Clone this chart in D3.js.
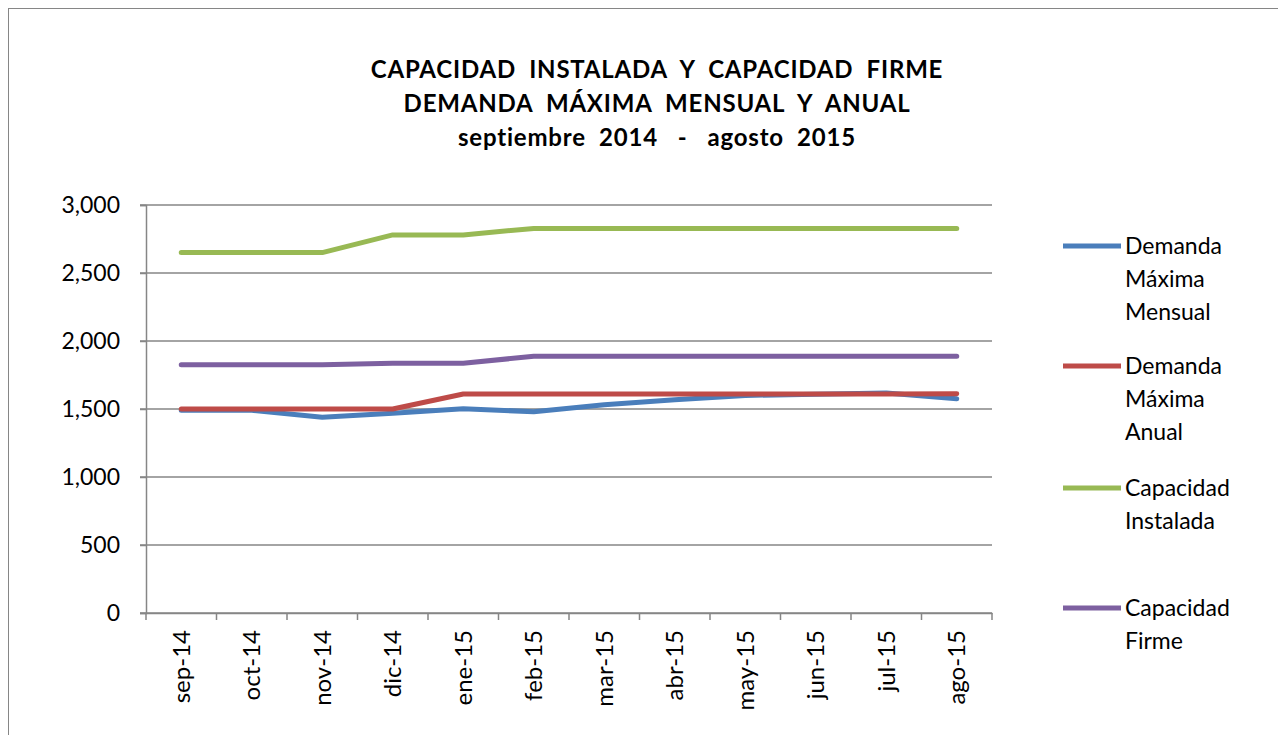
<!DOCTYPE html>
<html>
<head>
<meta charset="utf-8">
<script src="https://cdn.jsdelivr.net/npm/d3@7"></script>
<style>
  body { margin: 0; background: #fff; }
  svg text { font-family: Lato, "Open Sans", sans-serif; fill: #000; }
</style>
</head>
<body>
<div id="chart"></div>
<script>
const months = ['sep-14', 'oct-14', 'nov-14', 'dic-14', 'ene-15', 'feb-15',
                'mar-15', 'abr-15', 'may-15', 'jun-15', 'jul-15', 'ago-15'];

const demandaMensual = [1490, 1490, 1440, 1468, 1502, 1480, 1532, 1568, 1600, 1608, 1618, 1575];
const demandaAnual   = [1500, 1500, 1500, 1500, 1610, 1610, 1610, 1610, 1610, 1610, 1610, 1612];
const capInstalada   = [2650, 2650, 2650, 2780, 2780, 2828, 2828, 2828, 2828, 2828, 2828, 2828];
const capFirme       = [1826, 1826, 1826, 1836, 1836, 1888, 1888, 1888, 1888, 1888, 1888, 1888];

const yTicks = [0, 500, 1000, 1500, 2000, 2500, 3000];

const titleLines = [
    'CAPACIDAD  INSTALADA  Y  CAPACIDAD  FIRME',
    'DEMANDA  MÁXIMA  MENSUAL  Y  ANUAL',
    'septiembre  2014   -   agosto  2015'
];

const series = [
    {name: ['Demanda', 'Máxima', 'Mensual'], values: demandaMensual, color: '#4a7ebb'},
    {name: ['Demanda', 'Máxima', 'Anual'], values: demandaAnual, color: '#be4b48'},
    {name: ['Capacidad', 'Instalada'], values: capInstalada, color: '#98b954'},
    {name: ['Capacidad', 'Firme'], values: capFirme, color: '#7d60a0'}
];

const W = 1278, H = 735;
const margin = {top: 205, right: 286, bottom: 122, left: 146};
const width = W - margin.left - margin.right;
const height = H - margin.top - margin.bottom;

const root = d3.select('#chart')
    .append('svg')
    .attr('width', W)
    .attr('height', H);

// outer frame
root.append('rect')
    .attr('x', 8.5)
    .attr('y', 8.5)
    .attr('width', W + 20)
    .attr('height', H + 20)
    .attr('fill', 'none')
    .attr('stroke', '#868686')
    .attr('stroke-width', 1);

// title
root.append('g')
    .selectAll('text')
    .data(titleLines)
    .enter()
    .append('text')
    .attr('x', 657)
    .attr('y', (d, i) => 78 + i * 34)
    .attr('text-anchor', 'middle')
    .style('font-size', '24px')
    .style('font-weight', 'bold')
    .style('letter-spacing', '0.8px')
    .style('white-space', 'pre')
    .text(d => d);

const svg = root.append('g')
    .attr('transform', `translate(${margin.left},${margin.top})`);

const x = d3.scaleBand()
    .domain(months)
    .range([0, width]);

const y = d3.scaleLinear()
    .domain([0, 3000])
    .range([height, 0]);

// gridlines
svg.selectAll('.grid')
    .data(yTicks)
    .enter()
    .append('line')
    .attr('class', 'grid')
    .attr('x1', -6)
    .attr('x2', width)
    .attr('y1', d => y(d))
    .attr('y2', d => y(d))
    .attr('stroke', '#868686')
    .attr('stroke-width', 1.5);

// y axis
const yAxis = svg.append('g')
    .call(d3.axisLeft(y).tickValues(yTicks).tickSize(6).tickFormat(d3.format(',')));
yAxis.select('.domain').attr('stroke', '#868686').attr('stroke-width', 1.5);
yAxis.selectAll('.tick line').attr('stroke', '#868686').attr('stroke-width', 1.5);
yAxis.selectAll('.tick text')
    .attr('x', -26)
    .style('font-size', '23px')
    .style('font-family', 'Lato, "Open Sans", sans-serif');

// x axis
const xAxis = svg.append('g')
    .attr('transform', `translate(0,${height})`)
    .call(d3.axisBottom(x).tickSize(0));
xAxis.select('.domain').attr('stroke', '#868686').attr('stroke-width', 1.5);
xAxis.selectAll('.tick text')
    .attr('transform', 'rotate(-90)')
    .attr('x', -17)
    .attr('y', 0)
    .attr('dy', '0.35em')
    .attr('text-anchor', 'end')
    .style('font-size', '24px')
    .style('font-family', 'Lato, "Open Sans", sans-serif');

// category tick marks between bands
svg.selectAll('.xtick')
    .data(months.concat(['end']))
    .enter()
    .append('line')
    .attr('class', 'xtick')
    .attr('x1', (d, i) => i * x.bandwidth())
    .attr('x2', (d, i) => i * x.bandwidth())
    .attr('y1', height)
    .attr('y2', height + 7)
    .attr('stroke', '#868686')
    .attr('stroke-width', 1.5);

const line = d3.line()
    .x((d, i) => x(months[i]) + x.bandwidth() / 2)
    .y(d => y(d));

series.forEach(s => {
    svg.append('path')
        .datum(s.values)
        .attr('fill', 'none')
        .attr('stroke', s.color)
        .attr('stroke-width', 5)
        .attr('stroke-linecap', 'round')
        .attr('stroke-linejoin', 'round')
        .attr('d', line);
});

// legend
const legendY = [246, 366, 488, 608];
const legend = root.append('g');
series.forEach((s, i) => {
    const g = legend.append('g')
        .attr('transform', `translate(1063,${legendY[i]})`);
    g.append('line')
        .attr('x1', 0)
        .attr('x2', 58)
        .attr('y1', 0)
        .attr('y2', 0)
        .attr('stroke', s.color)
        .attr('stroke-width', 5);
    g.selectAll('text')
        .data(s.name)
        .enter()
        .append('text')
        .attr('x', 62)
        .attr('y', (d, j) => j * 33)
        .attr('dy', '0.35em')
        .style('font-size', '23px')
        .text(d => d);
});
</script>
</body>
</html>
